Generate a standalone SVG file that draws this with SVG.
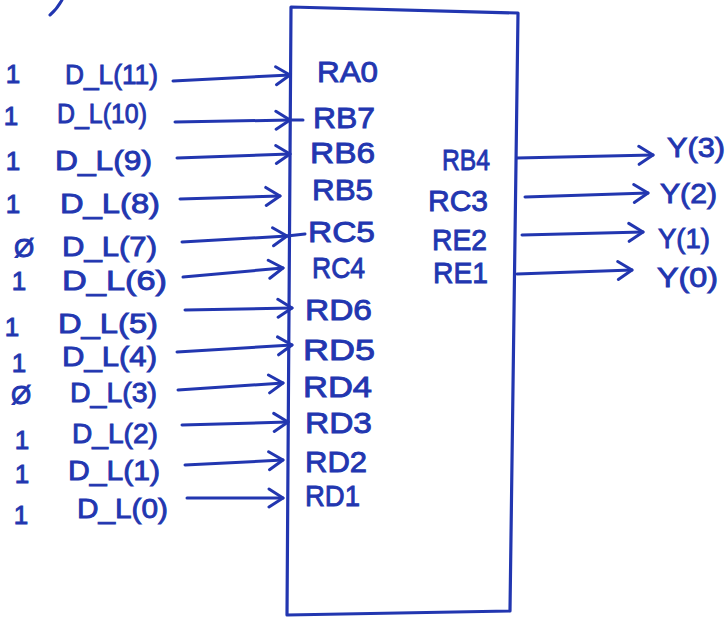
<svg xmlns="http://www.w3.org/2000/svg" width="728" height="618" viewBox="0 0 728 618">
  <defs>
    <style>
      text { font-family: "Liberation Sans", "DejaVu Sans", sans-serif; fill: #2236b0; stroke: #2236b0; stroke-width: 0.9; }
      .lbl { font-size: 28px; }
      .val { font-size: 26px; text-anchor: middle; }
      .pin { font-size: 30px; }
      .out { font-size: 28px; }
      .wire { fill: none; stroke: #2236b0; stroke-width: 3; stroke-linecap: round; }
      .box { fill: #ffffff; stroke: #2236b0; stroke-width: 3.2; stroke-linejoin: round; }
    </style>
    <marker id="chev" viewBox="-17 -11 20 22" markerWidth="20" markerHeight="22" refX="0" refY="0" orient="auto" markerUnits="userSpaceOnUse">
      <path d="M-14,-9 L0,0 L-14,9" fill="none" stroke="#2236b0" stroke-width="3" stroke-linecap="round" stroke-linejoin="round"/>
    </marker>
  </defs>
  <rect width="728" height="618" fill="#ffffff"/>

  <!-- stroke running off the top edge of the sheet -->
  <path class="wire" d="M50,15 Q57,9 62,0"/>

  <!-- microcontroller block with its port pins -->
  <g id="mcu">
    <path class="box" d="M291,7 L518,13 L510,611 L287,615 Z"/>
    <text class="pin" x="317" y="82" textLength="61" lengthAdjust="spacingAndGlyphs">RA0</text>
    <text class="pin" x="313" y="128" textLength="62" lengthAdjust="spacingAndGlyphs">RB7</text>
    <text class="pin" x="310" y="163" textLength="65" lengthAdjust="spacingAndGlyphs">RB6</text>
    <text class="pin" x="312" y="200" textLength="61" lengthAdjust="spacingAndGlyphs">RB5</text>
    <text class="pin" x="308" y="242" textLength="67" lengthAdjust="spacingAndGlyphs">RC5</text>
    <text class="pin" x="312" y="278" textLength="53" lengthAdjust="spacingAndGlyphs">RC4</text>
    <text class="pin" x="305" y="320" textLength="67" lengthAdjust="spacingAndGlyphs">RD6</text>
    <text class="pin" x="303" y="360" textLength="72" lengthAdjust="spacingAndGlyphs">RD5</text>
    <text class="pin" x="303" y="397" textLength="69" lengthAdjust="spacingAndGlyphs">RD4</text>
    <text class="pin" x="305" y="433" textLength="67" lengthAdjust="spacingAndGlyphs">RD3</text>
    <text class="pin" x="305" y="472" textLength="62" lengthAdjust="spacingAndGlyphs">RD2</text>
    <text class="pin" x="305" y="506" textLength="55" lengthAdjust="spacingAndGlyphs">RD1</text>
    <text class="pin" x="442" y="170" font-size="26" textLength="48" lengthAdjust="spacingAndGlyphs">RB4</text>
    <text class="pin" x="428" y="211" textLength="60" lengthAdjust="spacingAndGlyphs">RC3</text>
    <text class="pin" x="432" y="250" textLength="55" lengthAdjust="spacingAndGlyphs">RE2</text>
    <text class="pin" x="433" y="283" textLength="55" lengthAdjust="spacingAndGlyphs">RE1</text>
  </g>

  <!-- input bits: value and signal name -->
  <g id="in11"><text class="val" x="13" y="83">1</text><text class="lbl" x="65" y="84" textLength="93" lengthAdjust="spacingAndGlyphs">D_L(11)</text></g>
  <g id="in10"><text class="val" x="11" y="125">1</text><text class="lbl" x="57" y="123" textLength="90" lengthAdjust="spacingAndGlyphs">D_L(10)</text></g>
  <g id="in9"><text class="val" x="13" y="170">1</text><text class="lbl" x="55" y="170" textLength="97" lengthAdjust="spacingAndGlyphs">D_L(9)</text></g>
  <g id="in8"><text class="val" x="13" y="213">1</text><text class="lbl" x="60" y="213" textLength="100" lengthAdjust="spacingAndGlyphs">D_L(8)</text></g>
  <g id="in7"><text class="val" x="24" y="257" font-size="22">Ø</text><text class="lbl" x="62" y="256" textLength="95" lengthAdjust="spacingAndGlyphs">D_L(7)</text></g>
  <g id="in6"><text class="val" x="19" y="290">1</text><text class="lbl" x="62" y="290" textLength="105" lengthAdjust="spacingAndGlyphs">D_L(6)</text></g>
  <g id="in5"><text class="val" x="12" y="336">1</text><text class="lbl" x="58" y="333" textLength="100" lengthAdjust="spacingAndGlyphs">D_L(5)</text></g>
  <g id="in4"><text class="val" x="19" y="372">1</text><text class="lbl" x="62" y="366" textLength="95" lengthAdjust="spacingAndGlyphs">D_L(4)</text></g>
  <g id="in3"><text class="val" x="21" y="404" font-size="22">Ø</text><text class="lbl" x="70" y="402" textLength="87" lengthAdjust="spacingAndGlyphs">D_L(3)</text></g>
  <g id="in2"><text class="val" x="22" y="449" font-size="20">1</text><text class="lbl" x="72" y="443" textLength="86" lengthAdjust="spacingAndGlyphs">D_L(2)</text></g>
  <g id="in1"><text class="val" x="22" y="483">1</text><text class="lbl" x="68" y="480" textLength="92" lengthAdjust="spacingAndGlyphs">D_L(1)</text></g>
  <g id="in0"><text class="val" x="21" y="524">1</text><text class="lbl" x="77" y="518" textLength="91" lengthAdjust="spacingAndGlyphs">D_L(0)</text></g>

  <!-- output bits -->
  <g id="out3"><text class="out" x="667" y="157" font-size="32" textLength="58" lengthAdjust="spacingAndGlyphs">Y(3)</text></g>
  <g id="out2"><text class="out" x="660" y="203" font-size="26" textLength="57" lengthAdjust="spacingAndGlyphs">Y(2)</text></g>
  <g id="out1"><text class="out" x="658" y="248" textLength="52" lengthAdjust="spacingAndGlyphs">Y(1)</text></g>
  <g id="out0"><text class="out" x="657" y="287" textLength="61" lengthAdjust="spacingAndGlyphs">Y(0)</text></g>

  <!-- connectors -->
  <g id="connectors">
    <path class="wire" marker-end="url(#chev)" d="M173,81 L290,75"/>
    <path class="wire" marker-end="url(#chev)" d="M175,122 L290,120"/>
    <path class="wire" d="M290,120 L303,120"/>
    <path class="wire" marker-end="url(#chev)" d="M177,158 L290,154"/>
    <path class="wire" marker-end="url(#chev)" d="M180,199 L280,196"/>
    <path class="wire" marker-end="url(#chev)" d="M182,242 L287,236"/>
    <path class="wire" d="M287,236 L305,234"/>
    <path class="wire" marker-end="url(#chev)" d="M183,277 L283,268"/>
    <path class="wire" marker-end="url(#chev)" d="M185,310 L292,308"/>
    <path class="wire" marker-end="url(#chev)" d="M177,352 L292,345"/>
    <path class="wire" marker-end="url(#chev)" d="M178,390 L283,383"/>
    <path class="wire" marker-end="url(#chev)" d="M182,425 L288,422"/>
    <path class="wire" marker-end="url(#chev)" d="M185,465 L283,460"/>
    <path class="wire" marker-end="url(#chev)" d="M187,498 L283,498"/>
    <path class="wire" marker-end="url(#chev)" d="M517,158 L653,155"/>
    <path class="wire" marker-end="url(#chev)" d="M525,197 L648,193"/>
    <path class="wire" marker-end="url(#chev)" d="M522,235 L643,232"/>
    <path class="wire" marker-end="url(#chev)" d="M517,274 L632,270"/>
  </g>
</svg>
